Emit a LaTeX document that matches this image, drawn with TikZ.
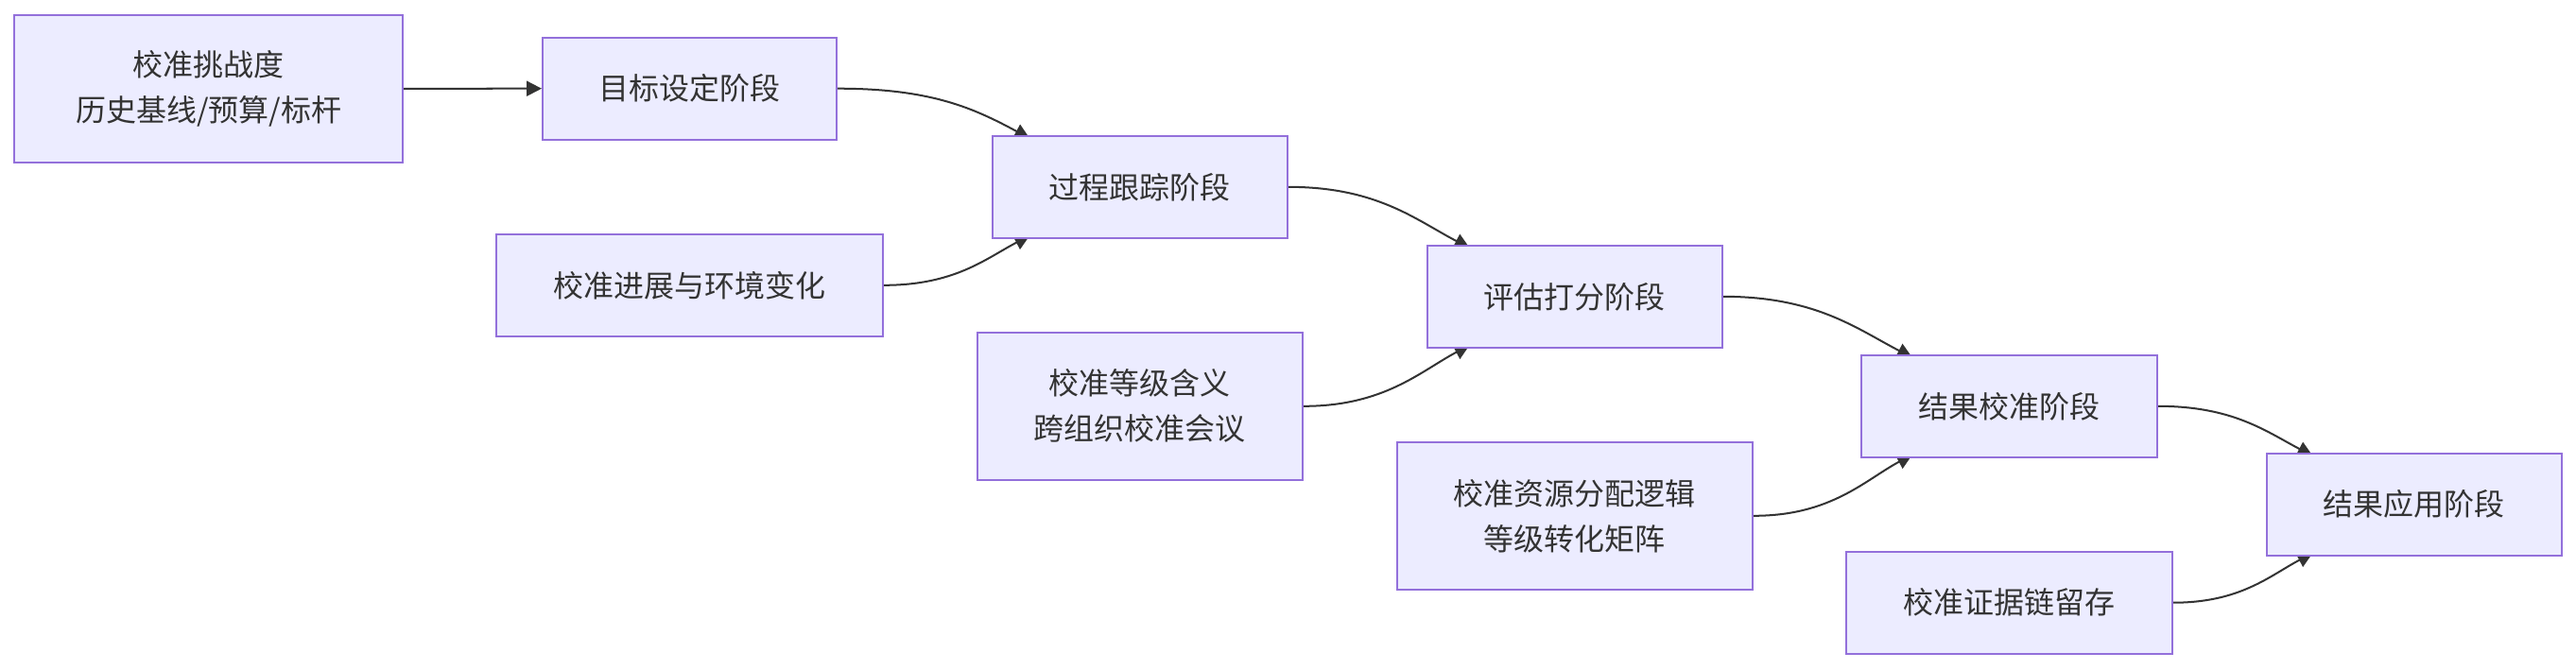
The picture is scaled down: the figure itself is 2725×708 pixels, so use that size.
\documentclass[tikz,border=0pt]{standalone}
\usepackage{fontspec}
\newfontfamily\cjk{Noto Sans CJK SC}
\usetikzlibrary{arrows.meta,calc}
\pgfdeclarelayer{edges}
\pgfsetlayers{edges,main}
\definecolor{boxfill}{HTML}{ECECFF}
\definecolor{boxline}{HTML}{9370DB}
\definecolor{ink}{HTML}{333333}
\tikzset{
  box/.style={draw=boxline, fill=boxfill, line width=0.57pt, inner sep=0pt,
    align=center, text=ink, font=\cjk\fontsize{9.1pt}{13.66pt}\selectfont},
  conn/.style={draw=ink, line width=0.57pt,
    -{Triangle[length=4.55pt,width=4.55pt]}},
  sunk/.style={shorten >=-2.28pt}
}
\begin{document}
\begin{tikzpicture}[x=0.01cm,y=-0.01cm]
\useasboundingbox (0,0) rectangle (2725,708);
\node[box, minimum width=4.105cm, minimum height=1.563cm] (A) at (220.7,93.8) {校准挑战度\\历史基线/预算/标杆};
\node[box, minimum width=3.11cm, minimum height=1.08cm] (B) at (729.6,93.7) {目标设定阶段};
\node[box, minimum width=3.12cm, minimum height=1.083cm] (C) at (1205.6,197.8) {过程跟踪阶段};
\node[box, minimum width=4.083cm, minimum height=1.083cm] (D) at (729.5,301.8) {校准进展与环境变化};
\node[box, minimum width=3.118cm, minimum height=1.083cm] (E) at (1665.5,313.8) {评估打分阶段};
\node[box, minimum width=3.44cm, minimum height=1.563cm] (F) at (1205.9,429.8) {校准等级含义\\跨组织校准会议};
\node[box, minimum width=3.127cm, minimum height=1.083cm] (G) at (2125.6,429.8) {结果校准阶段};
\node[box, minimum width=3.763cm, minimum height=1.563cm] (H) at (1665.8,545.8) {校准资源分配逻辑\\等级转化矩阵};
\node[box, minimum width=3.12cm, minimum height=1.083cm] (I) at (2553.6,533.8) {结果应用阶段};
\node[box, minimum width=3.446cm, minimum height=1.08cm] (J) at (2125.7,637.7) {校准证据链留存};

\coordinate (c1) at ($(C.north west)+(33.7,0)$);
\coordinate (c2) at ($(C.south west)+(33.7,0)$);
\coordinate (c3) at ($(E.north west)+(39,0)$);
\coordinate (c4) at ($(E.south west)+(39,0)$);
\coordinate (c5) at ($(G.north west)+(47.6,0)$);
\coordinate (c6) at ($(G.south west)+(47.6,0)$);
\coordinate (c7) at ($(I.north west)+(42.8,0)$);
\coordinate (c8) at ($(I.south west)+(42.8,0)$);

\begin{pgfonlayer}{edges}
\draw[conn] (A.east) -- (B.west);
\draw[conn,sunk] (B.east) .. controls +(99,0) and +(-52,-28) .. (c1);
\draw[conn,sunk] (D.east) .. controls +(75,0) and +(-40,21) .. (c2);
\draw[conn,sunk] (C.east) .. controls +(94,0) and +(-50,-26) .. (c3);
\draw[conn,sunk] (F.east) .. controls +(85,0) and +(-45,24) .. (c4);
\draw[conn,sunk] (E.east) .. controls +(98,0) and +(-52,-27) .. (c5);
\draw[conn,sunk] (H.east) .. controls +(82,0) and +(-43,23) .. (c6);
\draw[conn,sunk] (G.east) .. controls +(79,0) and +(-42,-22) .. (c7);
\draw[conn,sunk] (J.east) .. controls +(71,0) and +(-38,20) .. (c8);
\end{pgfonlayer}
\end{tikzpicture}
\end{document}
